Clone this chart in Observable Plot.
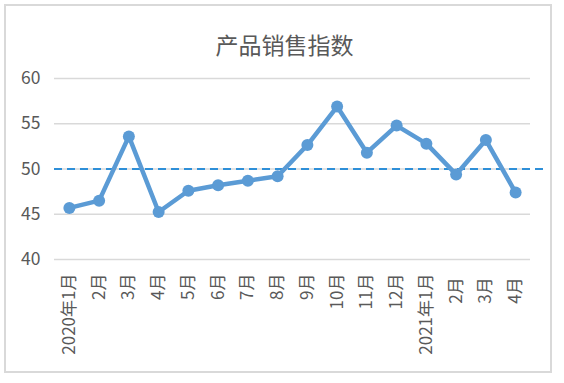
<!DOCTYPE html>
<html>
<head>
<meta charset="utf-8">
<script src="https://cdn.jsdelivr.net/npm/d3@7"></script>
<script src="https://cdn.jsdelivr.net/npm/@observablehq/plot@0.6"></script>
<style>
  html, body { margin: 0; padding: 0; background: #fff; }
  #wrap { position: relative; width: 564px; height: 383px; }
  #border { position: absolute; left: 4px; top: 4px; width: 544px; height: 365px; border: 2px solid #d9d9d9; pointer-events: none; }
</style>
</head>
<body>
<div id="wrap"><div id="border"></div></div>
<script>
const title = "产品销售指数";
const months = ["2020年1月","2月","3月","4月","5月","6月","7月","8月","9月","10月","11月","12月","2021年1月","2月 ","3月 ","4月 "];
const values = [45.7, 46.5, 53.6, 45.25, 47.6, 48.2, 48.7, 49.2, 52.65, 56.9, 51.8, 54.8, 52.8, 49.4, 53.2, 47.4];
const yTicks = [40, 45, 50, 55, 60];
const refValue = 50;

const data = months.map((m, i) => ({month: m, value: values[i]}));
const font = "'Noto Sans CJK SC', 'Noto Sans', sans-serif";

const chart = Plot.plot({
  width: 564,
  height: 383,
  marginLeft: 54,
  marginRight: 34,
  marginTop: 78,
  marginBottom: 124,
  style: { fontFamily: font, color: "#595959", background: "transparent" },
  x: { type: "point", domain: months, padding: 0.5, round: false, label: null },
  y: { domain: [40, 60], ticks: yTicks, label: null },
  marks: [
    Plot.gridY(yTicks, { stroke: "#d9d9d9", strokeOpacity: 1, strokeWidth: 1.5 }),
    Plot.axisY(yTicks, { tickSize: 0, tickPadding: 14, fontSize: 17.5, fill: "#595959", label: null }),
    Plot.axisX({ tickSize: 0, tickRotate: -90, tickPadding: 14, fontSize: 17, fill: "#595959", label: null }),
    Plot.ruleY([refValue], { stroke: "#2e8fd8", strokeWidth: 2, strokeDasharray: "8,5", insetRight: -13 }),
    Plot.line(data, { x: "month", y: "value", stroke: "#5b9bd5", strokeWidth: 4.5, strokeLinejoin: "round" }),
    Plot.dot(data, { x: "month", y: "value", r: 6, fill: "#5b9bd5", stroke: "none" }),
    Plot.text([title], { frameAnchor: "top", dy: -41, dx: -8, fontSize: 23, fill: "#595959", fontFamily: font })
  ]
});
document.getElementById("wrap").prepend(chart);
</script>
</body>
</html>
